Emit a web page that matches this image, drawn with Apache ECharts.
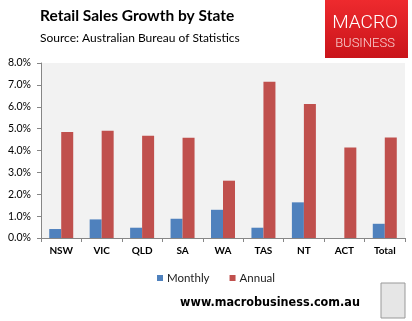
<!DOCTYPE html>
<html><head><meta charset="utf-8">
<script src="https://cdn.jsdelivr.net/npm/echarts@6/dist/echarts.min.js"></script>
<style>html,body{margin:0;padding:0;background:#fff}#c{width:412px;height:321px}</style>
</head><body><div id="c"></div>
<script>
var categories = ['NSW','VIC','QLD','SA','WA','TAS','NT','ACT','Total'];
var monthly = [0.41, 0.85, 0.47, 0.88, 1.29, 0.47, 1.63, null, 0.65];
var annual = [4.85, 4.90, 4.67, 4.58, 2.62, 7.14, 6.13, 4.14, 4.60];
var yTicks = [0, 1, 2, 3, 4, 5, 6, 7, 8];

var chart = echarts.init(document.getElementById('c'), null, {renderer:'canvas'});
var F = 'Lato, "Open Sans", sans-serif';
chart.setOption({
  animation: false,
  backgroundColor: '#fff',
  title: [
    {text: 'Retail Sales Growth by State', left: 40, top: 8, padding: 0,
     textStyle: {fontFamily: F, fontWeight: 'bold', fontSize: 15.5, color: '#000'}},
    {text: 'Source: Australian Bureau of Statistics', left: 40, top: 32, padding: 0,
     textStyle: {fontFamily: F, fontWeight: 'normal', fontSize: 12, color: '#000'}}
  ],
  legend: {
    data: ['Monthly','Annual'], left: 157, top: 272, padding: 0, itemWidth: 6, itemHeight: 6,
    itemGap: 20, icon: 'rect',
    textStyle: {fontFamily: F, fontSize: 11.5, color: '#222', padding: [0,0,0,-1]}
  },
  grid: {left: 41, right: 7, top: 63, bottom: 83, show: true, backgroundColor: '#f2f2f2', borderWidth: 0},
  xAxis: {
    type: 'category', data: categories,
    axisLine: {lineStyle: {color: '#868686'}},
    axisTick: {show: true, alignWithLabel: false, length: 4, lineStyle: {color: '#868686'}},
    axisLabel: {fontFamily: F, fontWeight: 'bold', fontSize: 10, color: '#000', margin: 8}
  },
  yAxis: {
    type: 'value', min: yTicks[0], max: yTicks[yTicks.length-1], interval: 1,
    splitLine: {show: false},
    axisLine: {show: true, lineStyle: {color: '#868686'}},
    axisTick: {show: true, length: 4, lineStyle: {color: '#868686'}},
    axisLabel: {fontFamily: F, fontSize: 10.5, color: '#000', margin: 10,
      formatter: function(v){ return v.toFixed(1) + '%'; }}
  },
  series: [
    {name: 'Monthly', type: 'bar', data: monthly, barWidth: 12, barGap: '0%',
     itemStyle: {color: '#4f81bd'}},
    {name: 'Annual', type: 'bar', data: annual, barWidth: 12, barGap: '0%',
     itemStyle: {color: '#c0504d'}}
  ],
  graphic: [
    {type: 'rect', shape: {x: 325, y: 0, width: 83, height: 58},
     style: {fill: new echarts.graphic.LinearGradient(0,0,0,1,[{offset:0,color:'#ee2a2e'},{offset:1,color:'#c9141a'}])}},
    {type: 'text', style: {x: 365, y: 23, text: 'MACRO', align: 'center', verticalAlign: 'middle',
      fill: '#ffffff', font: '300 19px Roboto, sans-serif'}},
    {type: 'text', style: {x: 365, y: 44, text: 'BUSINESS', align: 'center', verticalAlign: 'middle',
      fill: '#f8d0d0', font: '300 13px Roboto, sans-serif'}},
    {type: 'text', style: {x: 270, y: 303, text: 'www.macrobusiness.com.au', align: 'center', verticalAlign: 'middle',
      fill: '#000', font: 'bold 12.5px "DejaVu Sans Condensed", "DejaVu Sans", sans-serif'}},
    {type: 'rect', shape: {x: 381, y: 283, width: 24, height: 35},
     style: {fill: '#e6e6e6', stroke: '#999', lineWidth: 1}}
  ]
});
</script></body></html>
